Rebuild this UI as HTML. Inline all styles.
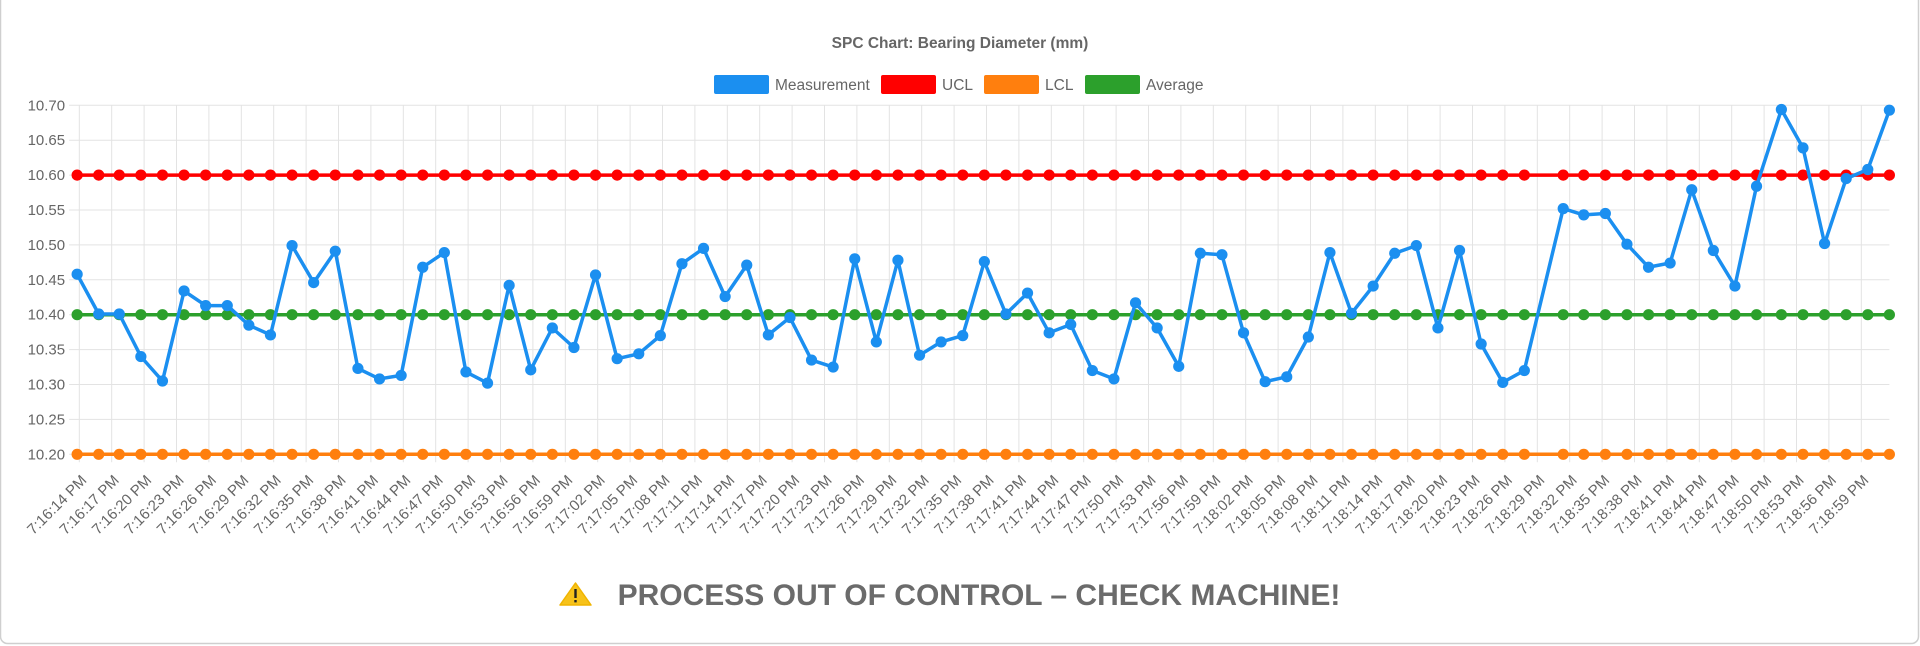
<!DOCTYPE html>
<html>
<head>
<meta charset="utf-8">
<style>
html,body{margin:0;padding:0;background:#fff;}
body{width:1920px;height:646px;overflow:hidden;font-family:"Liberation Sans",sans-serif;}
svg{display:block;}
</style>
</head>
<body>
<svg id="chart" width="1920" height="646" viewBox="0 0 1920 646" xmlns="http://www.w3.org/2000/svg" font-family="Liberation Sans, sans-serif">
  <rect x="0.5" y="-8" width="1918" height="651.5" rx="7" fill="#fff" stroke="#cfcfcf" stroke-width="1.5"/>
  <text x="960" y="48" text-anchor="middle" font-size="15.5" font-weight="bold" fill="#666">SPC Chart: Bearing Diameter (mm)</text>
  <g>
    <g>
      <rect x="714" y="75" width="55" height="19" rx="2" fill="#1b8ff0"/>
      <text x="775" y="90" font-size="15.5" fill="#666">Measurement</text>
    </g>
    <g>
      <rect x="881" y="75" width="55" height="19" rx="2" fill="#ff0000"/>
      <text x="942" y="90" font-size="15.5" fill="#666">UCL</text>
    </g>
    <g>
      <rect x="984" y="75" width="55" height="19" rx="2" fill="#ff7f0e"/>
      <text x="1045" y="90" font-size="15.5" fill="#666">LCL</text>
    </g>
    <g>
      <rect x="1085" y="75" width="55" height="19" rx="2" fill="#2ca02c"/>
      <text x="1146" y="90" font-size="15.5" fill="#666">Average</text>
    </g>
  </g>
  <g id="grid"></g>
  <g id="yaxis"></g>
  <g id="xaxis"></g>
  <g id="series"></g>
  <g>
    <g>
      <path d="M575.5 583 L591 605 L560 605 Z" fill="#f7c21a" stroke="#f0b400" stroke-width="1.5" stroke-linejoin="round"/>
      <rect x="574.3" y="589" width="2.4" height="9" fill="#222"/>
      <rect x="574.3" y="600" width="2.4" height="2.4" fill="#222"/>
    </g>
    <text x="979" y="605" text-anchor="middle" font-size="30" font-weight="bold" fill="#6b6b6b">PROCESS OUT OF CONTROL – CHECK MACHINE!</text>
  </g>
</svg>
<script>
// ---- data ----
const times = [-0.2,1.8,3.7,5.7,7.7,9.7,11.7,13.7,15.7,17.7,19.7,21.7,23.7,25.8,27.8,29.8,31.8,33.8,35.8,37.8,
  39.8,41.8,43.8,45.8,47.8,49.8,51.8,53.8,55.8,57.8,59.8,61.8,63.8,65.8,67.8,69.8,71.8,73.8,75.8,77.8,
  79.8,81.8,83.8,85.8,87.8,89.8,91.8,93.8,95.8,97.8,99.8,101.8,103.8,105.8,107.8,109.8,111.8,113.8,115.8,117.8,
  119.8,121.8,123.8,125.8,127.8,129.8,131.8,133.8,137.4,139.3,141.3,143.3,145.3,147.3,149.3,151.3,153.3,155.3,157.6,159.6,
  161.6,163.6,165.6,167.6];
const measurement = [10.458,10.401,10.401,10.340,10.305,10.434,10.413,10.413,10.385,10.371,10.499,10.446,10.491,10.323,10.308,10.313,10.468,10.489,10.318,10.302,
  10.442,10.321,10.381,10.353,10.457,10.337,10.344,10.370,10.473,10.495,10.426,10.471,10.371,10.396,10.335,10.325,10.480,10.361,10.478,10.342,
  10.361,10.370,10.476,10.401,10.431,10.374,10.386,10.320,10.308,10.417,10.381,10.326,10.488,10.486,10.374,10.304,10.311,10.368,10.489,10.402,
  10.441,10.488,10.499,10.381,10.492,10.358,10.303,10.320,10.552,10.543,10.545,10.501,10.468,10.474,10.579,10.492,10.441,10.584,10.694,10.639,
  10.502,10.595,10.608,10.693];
const ucl = 10.6;
const lcl = 10.2;
const average = 10.4;
const yTicks = [10.20,10.25,10.30,10.35,10.40,10.45,10.50,10.55,10.60,10.65,10.70];
const tickSeconds = [0,3,6,9,12,15,18,21,24,27,30,33,36,39,42,45,48,51,54,57,60,63,66,69,72,75,78,81,84,87,90,93,96,99,102,105,108,111,114,117,120,123,126,129,132,135,138,141,144,147,150,153,156,159,162,165];
const tickLabels = ["7:16:14 PM","7:16:17 PM","7:16:20 PM","7:16:23 PM","7:16:26 PM","7:16:29 PM","7:16:32 PM","7:16:35 PM","7:16:38 PM","7:16:41 PM","7:16:44 PM","7:16:47 PM","7:16:50 PM","7:16:53 PM","7:16:56 PM","7:16:59 PM",
  "7:17:02 PM","7:17:05 PM","7:17:08 PM","7:17:11 PM","7:17:14 PM","7:17:17 PM","7:17:20 PM","7:17:23 PM","7:17:26 PM","7:17:29 PM","7:17:32 PM","7:17:35 PM","7:17:38 PM","7:17:41 PM","7:17:44 PM","7:17:47 PM","7:17:50 PM","7:17:53 PM","7:17:56 PM","7:17:59 PM",
  "7:18:02 PM","7:18:05 PM","7:18:08 PM","7:18:11 PM","7:18:14 PM","7:18:17 PM","7:18:20 PM","7:18:23 PM","7:18:26 PM","7:18:29 PM","7:18:32 PM","7:18:35 PM","7:18:38 PM","7:18:41 PM","7:18:44 PM","7:18:47 PM","7:18:50 PM","7:18:53 PM","7:18:56 PM","7:18:59 PM"];

// ---- scales ----
const NS = "http://www.w3.org/2000/svg";
const X0 = 79.3, PXS = 10.8;
const Y_MIN = 10.2, Y_MAX = 10.7, Y_TOP = 105.3, Y_BOT = 454.3;
function xScale(t){ return X0 + t * PXS; }
function yScale(v){ return Y_BOT - (v - Y_MIN) / (Y_MAX - Y_MIN) * (Y_BOT - Y_TOP); }
const plotLeft = xScale(Math.min(times[0], 0));
const plotRight = xScale(times[times.length - 1]);
function mk(tag, attrs){ const e = document.createElementNS(NS, tag); for (const k in attrs) e.setAttribute(k, attrs[k]); return e; }

const grid = document.getElementById('grid');
const yaxis = document.getElementById('yaxis');
const xaxis = document.getElementById('xaxis');
const series = document.getElementById('series');

yTicks.forEach(function(v){
  const y = yScale(v);
  const l = mk('line', {x1: plotLeft - 8, x2: plotRight, y1: y, y2: y, stroke: '#e3e3e3', 'stroke-width': 1});
  
  
  grid.appendChild(l);
  const t = mk('text', {x: plotLeft - 12, y: y + 5, 'text-anchor': 'end', 'font-size': 15, fill: '#666'});
  
  
  t.textContent = v.toFixed(2);
  yaxis.appendChild(t);
});

tickSeconds.forEach(function(s, i){
  const x = xScale(s);
  const l = mk('line', {x1: x, x2: x, y1: Y_TOP, y2: Y_BOT + 8, stroke: '#e3e3e3', 'stroke-width': 1});
  
  
  grid.appendChild(l);
  const t = mk('text', {x: x + 5, y: 478, 'text-anchor': 'end', 'font-size': 15, fill: '#666', 'dominant-baseline': 'central', transform: 'rotate(-45 ' + (x + 5) + ' 478)'});
  
  
  t.textContent = tickLabels[i];
  xaxis.appendChild(t);
});

function drawSeries(name, vals, color){
  const g = mk('g', {});
  
  
  const pts = times.map(function(t, i){ return xScale(t).toFixed(1) + ',' + yScale(vals[i]).toFixed(1); }).join(' ');
  const pl = mk('polyline', {points: pts, fill: 'none', stroke: color, 'stroke-width': 3.5, 'stroke-linejoin': 'round'});
  
  
  g.appendChild(pl);
  times.forEach(function(t, i){
    const c = mk('circle', {cx: xScale(t), cy: yScale(vals[i]), r: 5.6, fill: color});
    
    
    g.appendChild(c);
  });
  series.appendChild(g);
}
drawSeries('lcl', times.map(function(){ return lcl; }), '#ff7f0e');
drawSeries('average', times.map(function(){ return average; }), '#2ca02c');
drawSeries('ucl', times.map(function(){ return ucl; }), '#ff0000');
drawSeries('measurement', measurement, '#1b8ff0');
</script>
</body>
</html>
